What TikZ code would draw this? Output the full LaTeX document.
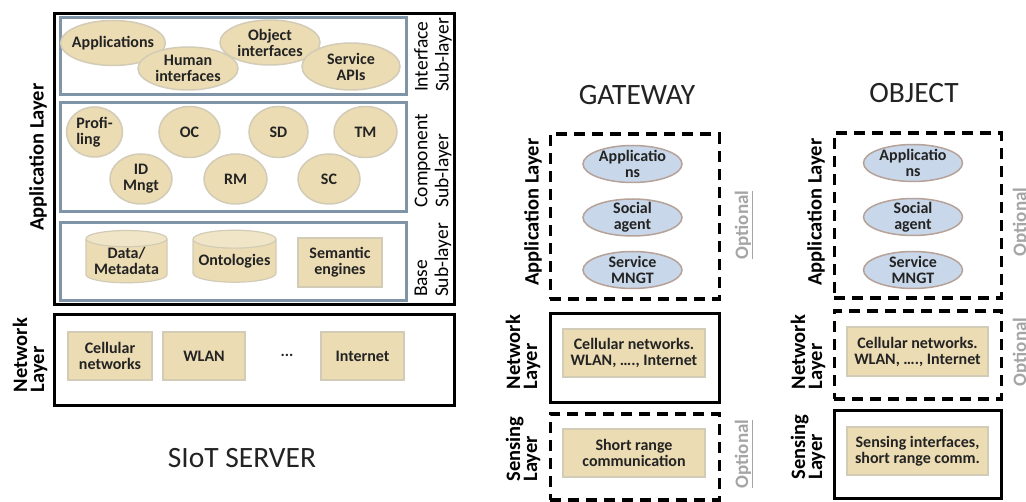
\documentclass[tikz,border=0pt]{standalone}
\usepackage{fontspec}
\setmainfont{Carlito}
\usetikzlibrary{shapes.geometric}
\definecolor{tanfill}{RGB}{236,220,180}
\definecolor{tanline}{RGB}{210,203,182}
\definecolor{subline}{RGB}{128,148,168}
\definecolor{bluefill}{RGB}{200,216,234}
\definecolor{blueline}{RGB}{182,162,152}
\definecolor{optgray}{RGB}{165,165,165}
\definecolor{txt}{RGB}{35,35,35}
\tikzset{
  layerbox/.style={draw=black, line width=3pt, anchor=north west, inner sep=0pt},
  optbox/.style={draw=black, line width=3.5pt, dash pattern=on 11pt off 7pt, anchor=north west, inner sep=0pt},
  subbox/.style={draw=subline, line width=3pt, anchor=north west, inner sep=0pt},
  nodefont/.style={font=\bfseries\fontsize{16}{16}\selectfont, text=txt, align=center},
  tanell/.style={ellipse, fill=tanfill, draw=tanline, line width=1.5pt, inner sep=-4pt, nodefont},
  tanrect/.style={rectangle, fill=tanfill, draw=tanline, line width=1.2pt, inner sep=0pt, nodefont},
  tancyl/.style={cylinder, shape border rotate=90, aspect=0.25, draw=tanline, line width=1.2pt,
     cylinder uses custom fill, cylinder body fill=tanfill, cylinder end fill=tanfill!75!white, inner sep=0pt, nodefont},
  blueell/.style={ellipse, fill=bluefill, draw=blueline, line width=1.5pt, minimum width=99pt, minimum height=37pt, inner sep=-4pt, nodefont},
  laylabel/.style={rotate=90, font=\bfseries\fontsize{20.5}{17}\selectfont, align=left},
  sublabel/.style={rotate=90, font=\fontsize{19.5}{21}\selectfont, align=left},
  optlabel/.style={rotate=90, text=optgray, font=\bfseries\fontsize{19}{19}\selectfont},
  titlelabel/.style={font=\fontsize{29.5}{30}\selectfont, text=txt}
}
\begin{document}
\begin{tikzpicture}[x=1pt,y=-1pt]
\useasboundingbox (0,0) rectangle (1026,502);
\clip (0,0) rectangle (1026,502);
\fill[white] (0,0) rectangle (1026,502);

% ===== SIoT SERVER =====
\node[layerbox, minimum width=400pt, minimum height=291pt] (appbox) at (52.5,12.5) {};
\node[subbox, minimum width=346pt, minimum height=77pt] (ifbox) at (58.5,16.5) {};
\node[subbox, minimum width=346pt, minimum height=109pt] (compbox) at (58.5,101.5) {};
\node[subbox, minimum width=346pt, minimum height=78pt] (basebox) at (58.5,221.5) {};
\node[layerbox, minimum width=400pt, minimum height=91pt] (netbox) at (52.5,313.5) {};

\node[laylabel] (applbl) at (38,157) {Application Layer};
\node[sublabel] (iflbl) at (433,55) {Interface\\Sub-layer};
\node[sublabel] (complbl) at (433,161) {Component\\Sub-layer};
\node[sublabel] (baselbl) at (433,260) {Base\\Sub-layer};
\node[laylabel] (netlbl) at (30,355) {Network\\Layer};

% interface sub-layer
\node[tanell, minimum width=100pt, minimum height=45pt] (apps) at (113,43) {Applications};
\node[tanell, minimum width=100pt, minimum height=43pt] (human) at (188,68.5) {Human\\interfaces};
\node[tanell, minimum width=100pt, minimum height=45pt] (objif) at (270,42.5) {Object\\interfaces};
\node[tanell, minimum width=98pt, minimum height=47pt] (svcapi) at (351,66.5) {Service\\APIs};

% component sub-layer
\node[tanell, minimum width=56pt, minimum height=50pt, align=left] (prof) at (94.5,132) {Profi-\\ling};
\node[tanell, minimum width=61pt, minimum height=51pt] (oc) at (189.5,132) {OC};
\node[tanell, minimum width=59pt, minimum height=51pt] (sd) at (278.5,132) {SD};
\node[tanell, minimum width=63pt, minimum height=51pt] (tm) at (365.5,132) {TM};
\node[tanell, minimum width=62pt, minimum height=50pt] (idm) at (141,179) {ID\\Mngt};
\node[tanell, minimum width=63pt, minimum height=50pt] (rm) at (235.5,179) {RM};
\node[tanell, minimum width=62pt, minimum height=50pt] (sc) at (329,179) {SC};

% base sub-layer
\node[tancyl, minimum width=81pt, minimum height=52pt] (data) at (126.5,261) {Data/\\Metadata};
\node[tancyl, minimum width=83pt, minimum height=52pt] (onto) at (234.5,261) {Ontologies};
\node[tanrect, minimum width=84pt, minimum height=49pt] (sem) at (340,262.5) {Semantic\\engines};

% network layer
\node[tanrect, minimum width=84pt, minimum height=48pt] (cell) at (110,356) {Cellular\\networks};
\node[tanrect, minimum width=82pt, minimum height=48pt] (wlan) at (204,356) {WLAN};
\node[nodefont] (dots) at (287,355) {...};
\node[tanrect, minimum width=83pt, minimum height=48pt] (inet) at (362.5,356) {Internet};

\node[titlelabel] (srvtitle) at (242,458) {SIoT SERVER};

% ===== GATEWAY =====
\node[titlelabel] (gwtitle) at (637,95) {GATEWAY};
\node[optbox, minimum width=169pt, minimum height=165pt] (gwapp) at (548.5,132.5) {};
\node[layerbox, minimum width=169pt, minimum height=89pt] (gwnet) at (548.5,312.5) {};
\node[optbox, minimum width=169pt, minimum height=86pt] (gwsens) at (548.5,412.5) {};

\node[laylabel] (gwapplbl) at (533,212) {Application Layer};
\node[laylabel] (gwnetlbl) at (523,352) {Network\\Layer};
\node[laylabel] (gwsenslbl) at (523,449) {Sensing\\Layer};

\node[blueell] (gwa1) at (632.5,164) {Applicatio\\ns};
\node[blueell] (gwa2) at (632.5,217.5) {Social\\agent};
\node[blueell] (gwa3) at (632.5,270) {Service\\MNGT};

\node[tanrect, minimum width=142pt, minimum height=48pt] (gwn1) at (634,353) {Cellular networks.\\WLAN, …., Internet};
\node[tanrect, minimum width=142pt, minimum height=48pt] (gws1) at (634,453) {Short range\\communication};

\node[optlabel] (gwopt1) at (744,225) {\underline{Optional}};
\node[optlabel] (gwopt2) at (744,454) {\underline{Optional}};

% ===== OBJECT =====
\node[titlelabel] (objtitle) at (914,93) {OBJECT};
\node[optbox, minimum width=167pt, minimum height=165pt] (obapp) at (832.5,131.5) {};
\node[optbox, minimum width=167pt, minimum height=88pt] (obnet) at (832.5,309.5) {};
\node[layerbox, minimum width=167pt, minimum height=88pt] (obsens) at (832.5,409.5) {};

\node[laylabel] (obapplbl) at (816,212) {Application Layer};
\node[laylabel] (obnetlbl) at (808,352) {Network\\Layer};
\node[laylabel] (obsenslbl) at (808,447) {Sensing\\Layer};

\node[blueell] (oba1) at (913,163) {Applicatio\\ns};
\node[blueell] (oba2) at (913,217) {Social\\agent};
\node[blueell] (oba3) at (913,270) {Service\\MNGT};

\node[tanrect, minimum width=141pt, minimum height=49pt] (obn1) at (917.5,351.5) {Cellular networks.\\WLAN, …., Internet};
\node[tanrect, minimum width=141pt, minimum height=48pt] (obs1) at (917.5,451) {Sensing interfaces,\\short range comm.};

\node[optlabel] (obopt1) at (1022,222) {\underline{Optional}};
\node[optlabel] (obopt2) at (1022,352) {\underline{Optional}};
\end{tikzpicture}
\end{document}
